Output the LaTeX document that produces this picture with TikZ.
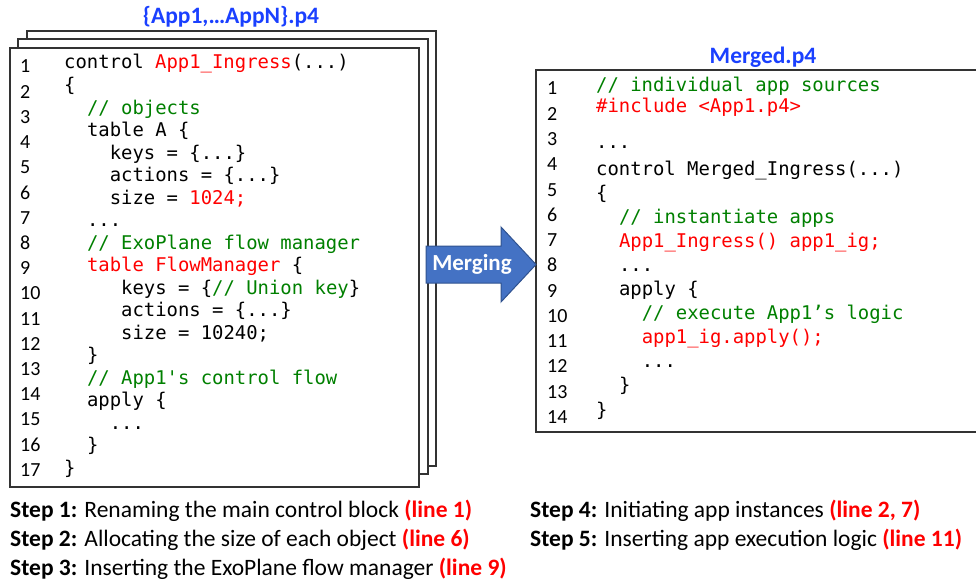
\documentclass[tikz,border=0pt]{standalone}
\usepackage{fontspec}
\setmainfont{Carlito}
\newfontfamily\codefont{DejaVu Sans Mono}[Ligatures=TeXOff]

\definecolor{codered}{RGB}{255,0,0}
\definecolor{codegreen}{RGB}{0,128,0}
\definecolor{titleblue}{RGB}{26,64,255}
\definecolor{arrowfill}{HTML}{4472C4}
\definecolor{arrowdraw}{HTML}{2F528F}
\definecolor{boxgray}{HTML}{333333}

\tikzset{
  filebox/.style={draw=boxgray, line width=1.5pt, fill=white},
  codeline/.style={anchor=base west, inner sep=0pt, font=\codefont\fontsize{18.9}{22}\selectfont},
  lineno/.style={anchor=base west, inner sep=0pt, font=\fontsize{20}{22}\selectfont},
  filetitle/.style={inner sep=0pt, text=titleblue, font=\fontsize{23.5}{26}\selectfont\bfseries},
  stepline/.style={anchor=base west, inner sep=0pt, font=\fontsize{23.5}{26}\selectfont},
  blockarrow/.style={fill=arrowfill, draw=arrowdraw, line width=1pt},
}
\newcommand{\redtxt}[1]{\textcolor{codered}{#1}}
\newcommand{\greentxt}[1]{\textcolor{codegreen}{#1}}
\newcommand{\stepref}[1]{\textcolor{codered}{\bfseries #1}}

\begin{document}
\begin{tikzpicture}[x=1pt, y=-1pt]
\useasboundingbox (0,0) rectangle (976,583);
\clip (0,0) rectangle (976,583);

% stacked source files
\draw[filebox] (27,31) rectangle (436,466);
\draw[filebox] (18,39) rectangle (428,474);
\draw[filebox] (10,48) rectangle (419,487);
\node[filetitle] (srctitle) at (231,17) {\{App1,…AppN\}.p4};

% line numbers of the source file
\foreach \n in {1,...,17}
  \node[lineno] (ln\n) at (20,{73+25.2*(\n-1)}) {\n};

% source file code (column width 11.4, line pitch 22.5)
\node[codeline] (lc0)  at ({64+11.4*0},{69+22.5*0})  {control \redtxt{App1\_Ingress}(...)};
\node[codeline] (lc1)  at ({64+11.4*0},{69+22.5*1})  {\{};
\node[codeline] (lc2)  at ({64+11.4*2},{69+22.5*2})  {\greentxt{// objects}};
\node[codeline] (lc3)  at ({64+11.4*2},{69+22.5*3})  {table A \{};
\node[codeline] (lc4)  at ({64+11.4*4},{69+22.5*4})  {keys = \{...\}};
\node[codeline] (lc5)  at ({64+11.4*4},{69+22.5*5})  {actions = \{...\}};
\node[codeline] (lc6)  at ({64+11.4*4},{69+22.5*6})  {size = \redtxt{1024;}};
\node[codeline] (lc7)  at ({64+11.4*2},{69+22.5*7})  {...};
\node[codeline] (lc8)  at ({64+11.4*2},{69+22.5*8})  {\greentxt{// ExoPlane flow manager}};
\node[codeline] (lc9)  at ({64+11.4*2},{69+22.5*9})  {\redtxt{table FlowManager} \{};
\node[codeline] (lc10) at ({64+11.4*5},{69+22.5*10}) {keys = \{\greentxt{// Union key}\}};
\node[codeline] (lc11) at ({64+11.4*5},{69+22.5*11}) {actions = \{...\}};
\node[codeline] (lc12) at ({64+11.4*5},{69+22.5*12}) {size = 10240;};
\node[codeline] (lc13) at ({64+11.4*2},{69+22.5*13}) {\}};
\node[codeline] (lc14) at ({64+11.4*2},{69+22.5*14}) {\greentxt{// App1's control flow}};
\node[codeline] (lc15) at ({64+11.4*2},{69+22.5*15}) {apply \{};
\node[codeline] (lc16) at ({64+11.4*4},{69+22.5*16}) {...};
\node[codeline] (lc17) at ({64+11.4*2},{69+22.5*17}) {\}};
\node[codeline] (lc18) at ({64+11.4*0},{69+22.5*18}) {\}};

% merged file
\draw[filebox] (536,70) rectangle (990,432);
\node[filetitle] (mrgtitle) at (763,57) {Merged.p4};

\foreach \n in {1,...,14}
  \node[lineno] (rn\n) at (547,{95+25.25*(\n-1)}) {\n};

% merged file code: header lines, then a pitch of 24.1 from line 5 on
\node[codeline] (rc0)  at ({596+11.4*0},91.5) {\greentxt{// individual app sources}};
\node[codeline] (rc1)  at ({596+11.4*0},113)  {\redtxt{\#include <App1.p4>}};
\node[codeline] (rc3)  at ({596+11.4*0},148)  {...};
\node[codeline] (rc4)  at ({596+11.4*0},{175+24.1*0})  {control Merged\_Ingress(...)};
\node[codeline] (rc5)  at ({596+11.4*0},{175+24.1*1})  {\{};
\node[codeline] (rc6)  at ({596+11.4*2},{175+24.1*2})  {\greentxt{// instantiate apps}};
\node[codeline] (rc7)  at ({596+11.4*2},{175+24.1*3})  {\redtxt{App1\_Ingress() app1\_ig;}};
\node[codeline] (rc8)  at ({596+11.4*2},{175+24.1*4})  {...};
\node[codeline] (rc9)  at ({596+11.4*2},{175+24.1*5})  {apply \{};
\node[codeline] (rc10) at ({596+11.4*4},{175+24.1*6})  {\greentxt{// execute App1’s logic}};
\node[codeline] (rc11) at ({596+11.4*4},{175+24.1*7})  {\redtxt{app1\_ig.apply();}};
\node[codeline] (rc12) at ({596+11.4*4},{175+24.1*8})  {...};
\node[codeline] (rc13) at ({596+11.4*2},{175+24.1*9})  {\}};
\node[codeline] (rc14) at ({596+11.4*0},{175+24.1*10}) {\}};

% merging block arrow
\draw[blockarrow] (426,246) -- (501,246) -- (501,227) -- (536,264.5)
  -- (501,302) -- (501,283) -- (426,283) -- cycle;
\node[inner sep=0pt, text=white, font=\fontsize{23}{26}\selectfont\bfseries] (merging) at (472,264) {Merging};

% step descriptions
\node[stepline] (step1) at (10,517) {\textbf{Step 1:} Renaming the main control block \stepref{(line 1)}};
\node[stepline] (step2) at (10,546) {\textbf{Step 2:} Allocating the size of each object \stepref{(line 6)}};
\node[stepline] (step3) at (10,575) {\textbf{Step 3:} Inserting the ExoPlane flow manager \stepref{(line 9)}};
\node[stepline] (step4) at (530,517) {\textbf{Step 4:} Initiating app instances \stepref{(line 2, 7)}};
\node[stepline] (step5) at (530,546) {\textbf{Step 5:} Inserting app execution logic \stepref{(line 11)}};
\end{tikzpicture}
\end{document}
